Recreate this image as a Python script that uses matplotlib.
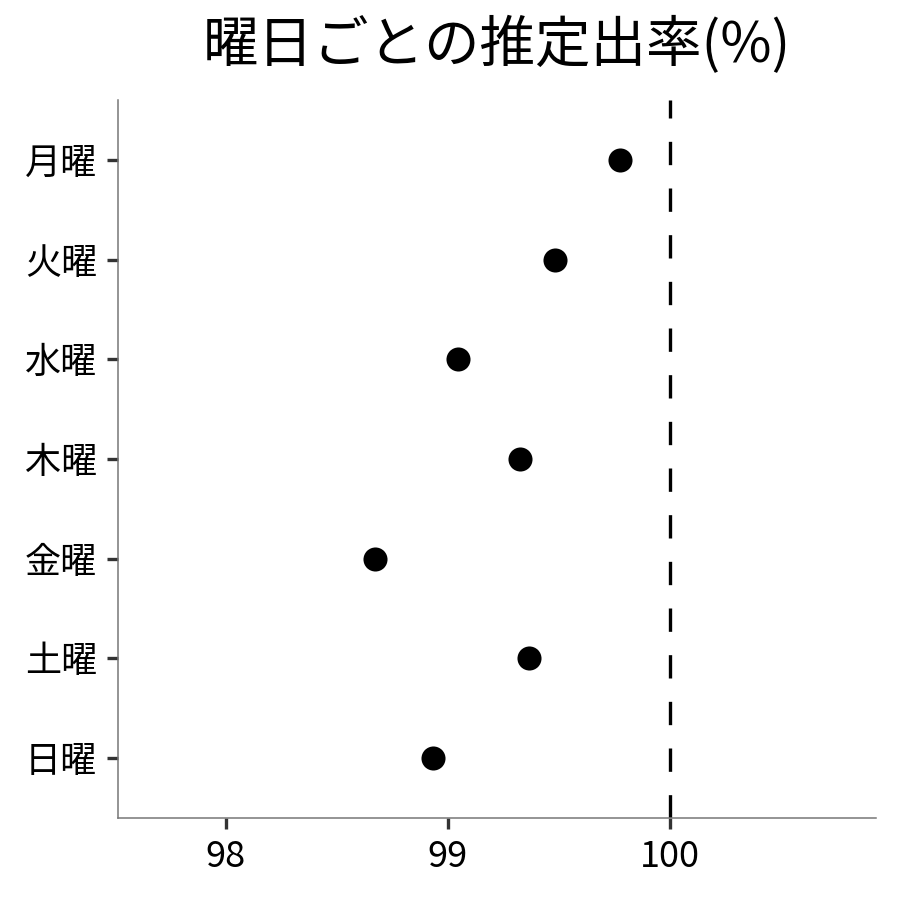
import matplotlib.pyplot as plt

plt.rcParams['font.family'] = ['Noto Sans CJK JP', 'DejaVu Sans']

days = ['月曜', '火曜', '水曜', '木曜', '金曜', '土曜', '日曜']
rate = [99.775, 99.482, 99.045, 99.324, 98.671, 99.365, 98.932]
ref_line = 100
xticks = [98, 99, 100]

fig = plt.figure(figsize=(9, 9), dpi=100)
ax = fig.add_axes([0.1311, 0.0911, 0.8422, 0.7978])

ypos = list(range(len(days)))
ax.scatter(rate, ypos, s=300, color='black', zorder=3, linewidths=0)
ax.axvline(ref_line, color='black', linewidth=2.4, dashes=(7, 7), zorder=2)

ax.set_yticks(ypos)
ax.set_yticklabels(days)
ax.set_ylim(len(days) - 0.4, -0.6)
ax.set_xticks(xticks)
ax.set_xlim(97.514, 100.93)

for side in ['top', 'right']:
    ax.spines[side].set_visible(False)
for side in ['left', 'bottom']:
    ax.spines[side].set_color('#777777')
    ax.spines[side].set_linewidth(1.1)
ax.tick_params(axis='both', length=8, width=2.4, color='#333333',
               labelsize=26, labelcolor='black', pad=7)

ax.set_title('曜日ごとの推定出率(%)', fontsize=40, pad=27)

fig.savefig('out.png', dpi=100)
